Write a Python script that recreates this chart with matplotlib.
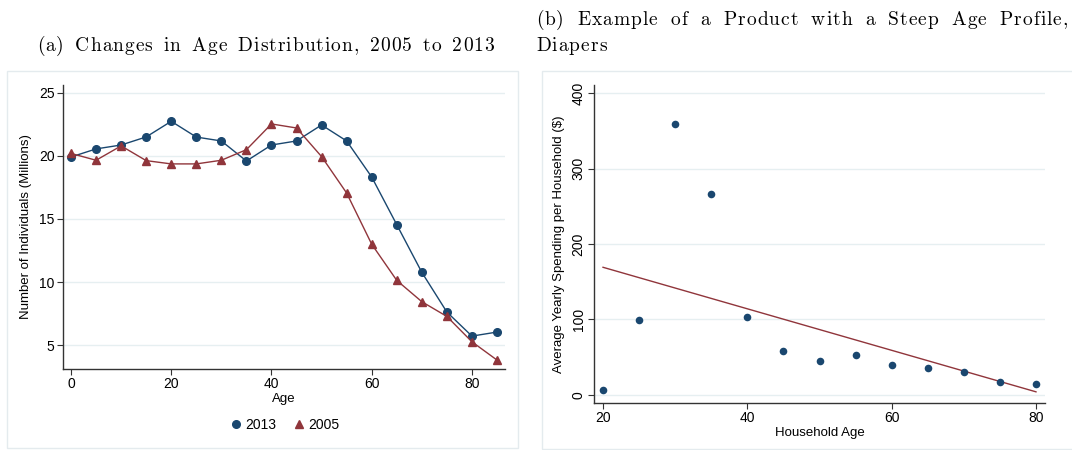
import numpy as np
import matplotlib
matplotlib.use("Agg")
import matplotlib.pyplot as plt
from matplotlib.patches import Rectangle
from matplotlib.lines import Line2D
from matplotlib.font_manager import FontProperties
from matplotlib.textpath import text_to_path

# Panel (a): population by age group (millions)
ages = [0, 5, 10, 15, 20, 25, 30, 35, 40, 45, 50, 55, 60, 65, 70, 75, 80, 85]
pop_2013 = [19.92, 20.56, 20.87, 21.51, 22.75, 21.50, 21.19, 19.60, 20.87, 21.19,
            22.46, 21.19, 18.33, 14.55, 10.77, 7.62, 5.71, 6.03]
pop_2005 = [20.20, 19.66, 20.80, 19.63, 19.37, 19.37, 19.66, 20.50, 22.54, 22.22,
            19.95, 17.06, 13.00, 10.13, 8.44, 7.27, 5.26, 3.81]

# Panel (b): diaper spending by household age
hh_age = [20, 25, 30, 35, 40, 45, 50, 55, 60, 65, 70, 75, 80]
spending = [6.6, 99.4, 358.9, 265.6, 103.4, 58.3, 44.6, 53.0, 39.3, 36.2, 30.1, 16.8, 14.6]

a_yticks = [5, 10, 15, 20, 25]
a_xticks = [0, 20, 40, 60, 80]
b_yticks = [0, 100, 200, 300, 400]
b_xticks = [20, 40, 60, 80]

NAVY = "#1a476f"
MAROON = "#90353b"
GRID = "#e6eff1"
FRAME = "#e4ebee"
SPINE = "#333333"

plt.rcParams["font.family"] = ["Liberation Sans", "DejaVu Sans"]

W, H = 1072, 450
DPI = 100
fig = plt.figure(figsize=(W / DPI, H / DPI), dpi=DPI)

def fx(px):
    return px / W

def fy(py):
    return 1 - py / H

# light frames around each panel
fig.patches.append(Rectangle((fx(7), fy(448)), fx(518 - 7), fy(71) - fy(448),
                             transform=fig.transFigure, fill=False,
                             edgecolor=FRAME, linewidth=1.0))
fig.patches.append(Rectangle((fx(542), fy(449)), fx(1080 - 542), fy(71) - fy(449),
                             transform=fig.transFigure, fill=False,
                             edgecolor=FRAME, linewidth=1.0))

def style(ax):
    for s in ("top", "right"):
        ax.spines[s].set_visible(False)
    for s in ("left", "bottom"):
        ax.spines[s].set_color(SPINE)
        ax.spines[s].set_linewidth(1.0)
    ax.tick_params(direction="out", length=4, width=0.8, color=SPINE,
                   labelsize=10, labelcolor="black", pad=2)
    ax.grid(axis="y", color=GRID, linewidth=1.0)
    ax.set_axisbelow(True)

LABEL_FS = 9.5

# ---- panel (a)
axa = fig.add_axes([fx(63), fy(369), fx(505 - 63), fy(85) - fy(369)])
style(axa)
axa.plot(ages, pop_2013, color=NAVY, lw=1.0, marker="o", ms=5.5, label="2013")
axa.plot(ages, pop_2005, color=MAROON, lw=1.0, marker="^", ms=6, label="2005")
axa.set_xlim(-1.6, 86.6)
axa.set_ylim(3.1, 25.63)
axa.set_xticks(a_xticks)
axa.set_yticks(a_yticks)
axa.set_xlabel("Age", fontsize=LABEL_FS, labelpad=1)
axa.set_ylabel("Number of Individuals (Millions)", fontsize=LABEL_FS, labelpad=5)

handles = [Line2D([], [], ls="none", marker="o", ms=5.5, color=NAVY),
           Line2D([], [], ls="none", marker="^", ms=6, color=MAROON)]
fig.legend(handles, ["2013", "2005"], loc="center", bbox_to_anchor=(fx(284), fy(425)),
           ncol=2, frameon=False, fontsize=10, handletextpad=0.2, columnspacing=1.1,
           handlelength=1.0)

# ---- panel (b)
axb = fig.add_axes([fx(594), fy(403), fx(1045 - 594), fy(85) - fy(403)])
style(axb)
axb.scatter(hh_age, spending, s=30, color=NAVY, zorder=3, linewidths=0)
slope, intercept = np.polyfit(hh_age, spending, 1)
xfit = np.array([min(hh_age), max(hh_age)])
axb.plot(xfit, intercept + slope * xfit, color=MAROON, lw=1.0, zorder=2)
axb.set_xlim(18.75, 81.25)
axb.set_ylim(-10.6, 410.6)
axb.set_xticks(b_xticks)
axb.set_yticks(b_yticks)
for lab in axb.get_yticklabels():
    lab.set_rotation(90)
    lab.set_va("center")
axb.set_xlabel("Household Age", fontsize=LABEL_FS, labelpad=1)
axb.set_ylabel("Average Yearly Spending per Household ($)", fontsize=LABEL_FS, labelpad=5)

# ---- panel captions, set in a letter-spaced serif face with wide word gaps
CAP_FS = 14
CHAR_TRACK = 1.0  # px between letters
cap_prop = FontProperties(family=["cmr10", "DejaVu Serif"], size=CAP_FS)
PX_PER_PT = DPI / 72.0

def glyph_w(s):
    return text_to_path.get_text_width_height_descent(s, cap_prop, False)[0] * PX_PER_PT

SPACE_W = glyph_w("a a") - glyph_w("aa")

def advances(s):
    return [SPACE_W if ch == " " else glyph_w(ch) for ch in s]

def space_extra_for(s, width_px):
    adv = advances(s)
    n_space = s.count(" ")
    return (width_px - sum(adv) - CHAR_TRACK * (len(s) - 1)) / n_space

def spaced_text(x_px, y_px, s, space_extra):
    x = x_px
    for ch, a in zip(s, advances(s)):
        if ch == " ":
            x += a + space_extra + CHAR_TRACK
            continue
        fig.text(fx(x), fy(y_px), ch, ha="left", va="baseline",
                 fontproperties=cap_prop)
        x += a + CHAR_TRACK

cap_a = "(a) Changes in Age Distribution, 2005 to 2013"
cap_b1 = "(b) Example of a Product with a Steep Age Profile,"
cap_b2 = "Diapers"

spaced_text(37, 51, cap_a, space_extra_for(cap_a, 457))
spaced_text(536, 25, cap_b1, space_extra_for(cap_b1, 532))
spaced_text(536, 51, cap_b2, 0)

fig.savefig("out.png", dpi=DPI)
